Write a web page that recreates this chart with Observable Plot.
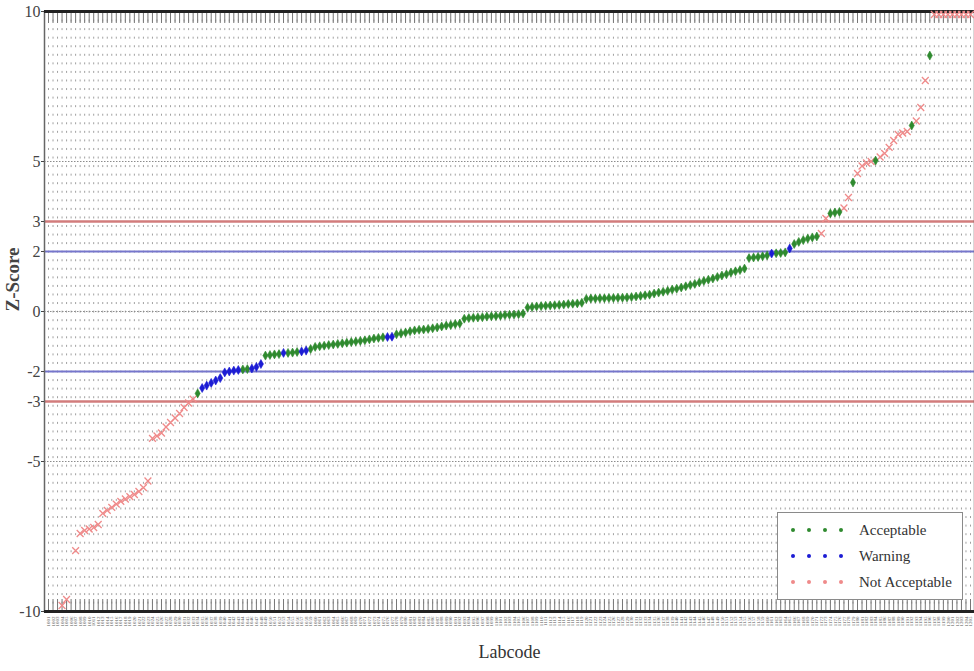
<!DOCTYPE html>
<html>
<head>
<meta charset="utf-8">
<script src="https://cdn.jsdelivr.net/npm/d3@7"></script>
<script src="https://cdn.jsdelivr.net/npm/@observablehq/plot@0.6"></script>
<style>
  html, body { margin: 0; padding: 0; background: #fff; }
  #wrap { position: relative; width: 974px; height: 671px; overflow: hidden; }
  #legend { position: absolute; left: 777px; top: 512px; }
</style>
</head>
<body>
<div id="wrap"></div>
<script>
// ---- data ----
const zScores = [
  null, null, null,
  -9.8, -9.6, null, -7.97, -7.4, -7.3, -7.25, -7.2, -7.1, -6.73,
  -6.63, -6.53, -6.42, -6.33, -6.25, -6.17, -6.1, -6.0, -5.87, -5.65,
  -4.23, -4.15, -4.05, -3.85, -3.7, -3.55, -3.4, -3.2, -3.05, -2.92,
  -2.73, -2.55, -2.47, -2.38, -2.3, -2.22, -2.03, -2.0, -1.97, -1.95,
  -1.93, -1.92, -1.9, -1.85, -1.75, -1.47, -1.45, -1.43, -1.42, -1.38,
  -1.38, -1.37, -1.35, -1.33, -1.3, -1.25, -1.18, -1.16, -1.14, -1.12,
  -1.1, -1.08, -1.06, -1.04, -1.02, -1.0, -0.98, -0.96, -0.93, -0.9,
  -0.88, -0.86, -0.85, -0.84, -0.76, -0.73, -0.7, -0.66, -0.63, -0.61,
  -0.6, -0.58, -0.56, -0.53, -0.5, -0.47, -0.45, -0.42, -0.4, -0.24,
  -0.22, -0.21, -0.2, -0.19, -0.17, -0.16, -0.15, -0.14, -0.12, -0.11,
  -0.1, -0.09, -0.07, 0.13, 0.15, 0.17, 0.18, 0.19, 0.2, 0.21,
  0.22, 0.23, 0.25, 0.26, 0.27, 0.29, 0.42, 0.43, 0.43, 0.44,
  0.44, 0.45, 0.45, 0.46, 0.46, 0.47, 0.48, 0.5, 0.52, 0.54,
  0.56, 0.6, 0.63, 0.66, 0.69, 0.73, 0.76, 0.8, 0.84, 0.88,
  0.92, 0.97, 1.02, 1.06, 1.1, 1.15, 1.2, 1.24, 1.3, 1.34,
  1.38, 1.43, 1.78, 1.8, 1.82, 1.84, 1.87, 1.93, 1.94, 1.95,
  1.97, 2.1, 2.25, 2.32, 2.38, 2.43, 2.47, 2.5, 2.6, 3.1,
  3.27, 3.3, 3.32, 3.45, 3.8, 4.3, 4.6, 4.85, 4.95, 5.0,
  5.03, 5.15, 5.27, 5.47, 5.7, 5.9, 5.95, 6.0, 6.2, 6.35,
  6.8, 7.7, 8.53, 9.9, 9.9, 9.9, 9.9, 9.9, 9.9, 9.9,
  9.9, 9.9
];

// A = Acceptable, W = Warning, N = Not Acceptable
const statusCodes = [
  "N","N","N",
  "N","N","N","N","N","N","N","N","N","N",
  "N","N","N","N","N","N","N","N","N","N",
  "N","N","N","N","N","N","N","N","N","N",
  "A","W","W","W","W","W","W","W","W","W",
  "A","A","W","W","W","A","A","A","A","W",
  "A","A","A","W","W","A","A","A","A","A",
  "A","A","A","A","A","A","A","A","A","A",
  "A","A","W","W","A","A","A","A","A","A",
  "A","A","A","A","A","A","A","A","A","A",
  "A","A","A","A","A","A","A","A","A","A",
  "A","A","A","A","A","A","A","A","A","A",
  "A","A","A","A","A","A","A","A","A","A",
  "A","A","A","A","A","A","A","A","A","A",
  "A","A","A","A","A","A","A","A","A","A",
  "A","A","A","A","A","A","A","A","A","A",
  "A","A","A","A","A","A","A","W","A","A",
  "A","W","A","A","A","A","A","A","N","N",
  "A","A","A","N","N","A","N","N","N","N",
  "A","N","N","N","N","N","N","N","A","N",
  "N","N","A","N","N","N","N","N","N","N",
  "N","N"
];

const statusNames = { A: "Acceptable", W: "Warning", N: "Not Acceptable" };
const statusColors = { A: "#2f8a2f", W: "#1c1cd4", N: "#ef8a8a" };
const legendOrder = ["A", "W", "N"];

const labcodes = zScores.map((_, i) => String(1001 + i));

const yDomain = [-10, 10];
const yTicks = [10, 5, 3, 2, 0, -2, -3, -5, -10];
const majorLines = [5, 0, -5];
const warningLines = [2, -2];
const actionLines = [3, -3];

// ---- table ----
const table = labcodes.map((lab, i) => ({ lab, z: zScores[i], status: statusCodes[i] }));

// elongated diamond marker
const tallDiamond = {
  draw(ctx, size) {
    const s = Math.sqrt(size / Math.PI);
    ctx.moveTo(0, -s * 1.4);
    ctx.lineTo(s * 0.8, 0);
    ctx.lineTo(0, s * 1.4);
    ctx.lineTo(-s * 0.8, 0);
    ctx.closePath();
  }
};

const serif = '"Liberation Serif", "DejaVu Serif", serif';

const chart = Plot.plot({
  width: 974,
  height: 671,
  marginLeft: 44,
  marginRight: 0,
  marginTop: 11,
  marginBottom: 60,
  style: { fontFamily: serif, background: "#fff", color: "#444" },
  x: { type: "point", domain: labcodes, padding: 0, insetLeft: 4, insetRight: 4 },
  y: { domain: yDomain },
  marks: [
    // dotted grid (vertical dashed lines at every labcode)
    Plot.tickX(labcodes, { x: d => d, stroke: "#a0a0a0", strokeWidth: 1, strokeDasharray: "2,6.56" }),
    Plot.ruleY(majorLines, { stroke: "#8c8c8c", strokeWidth: 1.2, strokeDasharray: "1.5,1.5" }),
    Plot.ruleY(warningLines, { stroke: "#7676cc", strokeWidth: 2 }),
    Plot.ruleY(actionLines, { stroke: "#d27c7c", strokeWidth: 2.5 }),
    // inner tick rows at top and bottom
    Plot.tickX(labcodes, { x: d => d, stroke: "#777", strokeWidth: 1, insetTop: 588 }),
    Plot.tickX(labcodes, { x: d => d, stroke: "#777", strokeWidth: 1, insetBottom: 588 }),
    Plot.frame({ stroke: "#666", strokeWidth: 1.5 }),
    Plot.ruleY(yDomain, { stroke: "#222", strokeWidth: 3 }),
    // axes
    Plot.axisY({ ticks: yTicks, tickSize: 3, tickPadding: 1, fontSize: 16, label: null, tickFormat: d => String(d) }),
    Plot.axisX({ tickSize: 0, tickRotate: -90, tickPadding: 5, fontSize: 5, fill: "#555", label: null }),
    Plot.text(["Z-Score"], { frameAnchor: "left", rotate: -90, dx: -32, fontSize: 19, fontWeight: "bold", fill: "#444", letterSpacing: 5 }),
    Plot.text(["Labcode"], { frameAnchor: "bottom", dy: 46, fontSize: 18, fill: "#333" }),
    // points
    Plot.dot(table, { filter: d => d.z != null && d.status === "N", x: "lab", y: "z", symbol: "times", r: 3.2, stroke: statusColors.N, strokeWidth: 1.3 }),
    Plot.dot(table, { filter: d => d.z != null && d.status === "A", x: "lab", y: "z", symbol: tallDiamond, r: 3.2, fill: statusColors.A, stroke: statusColors.A, strokeWidth: 0.6 }),
    Plot.dot(table, { filter: d => d.z != null && d.status === "W", x: "lab", y: "z", symbol: tallDiamond, r: 3.2, fill: statusColors.W, stroke: statusColors.W, strokeWidth: 0.6 })
  ]
});

const wrap = document.getElementById("wrap");
wrap.appendChild(chart);

// legend (drawn inside the plot area, lower right)
const lw = 186, lh = 88;
const legend = d3.select(wrap).append("svg")
  .attr("id", "legend")
  .attr("width", lw).attr("height", lh);
legend.append("rect")
  .attr("x", 0.5).attr("y", 0.5).attr("width", lw - 1).attr("height", lh - 1)
  .attr("fill", "#fff").attr("stroke", "#8a8a8a");
legendOrder.forEach((code, row) => {
  const cy = 18 + row * 26;
  [16, 32, 48, 64].forEach(cx => {
    legend.append("circle").attr("cx", cx).attr("cy", cy).attr("r", 2).attr("fill", statusColors[code]);
  });
  legend.append("text")
    .attr("x", 82).attr("y", cy + 5)
    .attr("font-family", serif).attr("font-size", 15).attr("fill", "#333")
    .text(statusNames[code]);
});
</script>
</body>
</html>
